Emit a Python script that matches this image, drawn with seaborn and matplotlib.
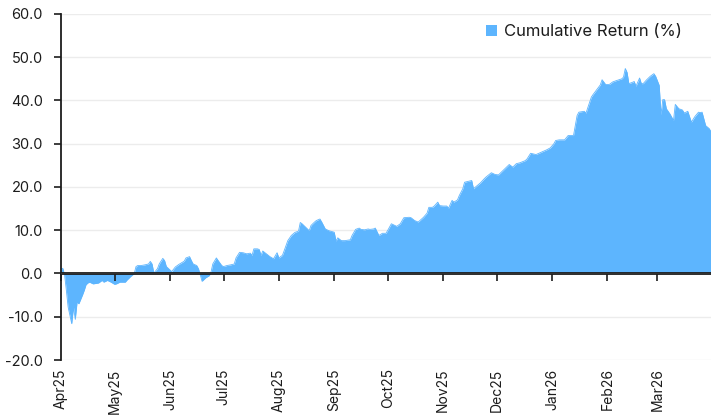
import matplotlib
matplotlib.use("Agg")
import matplotlib.pyplot as plt
import matplotlib.dates as mdates
from matplotlib.patches import Patch
import pandas as pd
import seaborn as sns

# Cumulative return of the portfolio, April 2025 - March 2026 (%)
dates = [
    "2025-04-01", "2025-04-02", "2025-04-03", "2025-04-04", "2025-04-05", "2025-04-07",
    "2025-04-08", "2025-04-09", "2025-04-10", "2025-04-11", "2025-04-12", "2025-04-13",
    "2025-04-14", "2025-04-15", "2025-04-16", "2025-04-17", "2025-04-19", "2025-04-22",
    "2025-04-24", "2025-04-25", "2025-04-27", "2025-04-29", "2025-05-01", "2025-05-02",
    "2025-05-04", "2025-05-07", "2025-05-08", "2025-05-10", "2025-05-12", "2025-05-13",
    "2025-05-14", "2025-05-16", "2025-05-18", "2025-05-20", "2025-05-21", "2025-05-22",
    "2025-05-23", "2025-05-25", "2025-05-26", "2025-05-28", "2025-05-29", "2025-05-30",
    "2025-06-01", "2025-06-02", "2025-06-04", "2025-06-06", "2025-06-09", "2025-06-10",
    "2025-06-12", "2025-06-13", "2025-06-14", "2025-06-16", "2025-06-17", "2025-06-19",
    "2025-06-21", "2025-06-23", "2025-06-24", "2025-06-25", "2025-06-27", "2025-06-28",
    "2025-06-30", "2025-07-01", "2025-07-03", "2025-07-05", "2025-07-07", "2025-07-08",
    "2025-07-10", "2025-07-12", "2025-07-14", "2025-07-16", "2025-07-17", "2025-07-18",
    "2025-07-20", "2025-07-21", "2025-07-22", "2025-07-23", "2025-07-25", "2025-07-27",
    "2025-07-29", "2025-07-31", "2025-08-01", "2025-08-03", "2025-08-04", "2025-08-06",
    "2025-08-08", "2025-08-10", "2025-08-12", "2025-08-13", "2025-08-14", "2025-08-16",
    "2025-08-18", "2025-08-19", "2025-08-21", "2025-08-22", "2025-08-24", "2025-08-25",
    "2025-08-27", "2025-08-29", "2025-09-01", "2025-09-02", "2025-09-03", "2025-09-05",
    "2025-09-07", "2025-09-10", "2025-09-11", "2025-09-13", "2025-09-15", "2025-09-16",
    "2025-09-18", "2025-09-20", "2025-09-21", "2025-09-23", "2025-09-24", "2025-09-26",
    "2025-09-28", "2025-09-30", "2025-10-01", "2025-10-03", "2025-10-05", "2025-10-06",
    "2025-10-08", "2025-10-10", "2025-10-13", "2025-10-14", "2025-10-16", "2025-10-18",
    "2025-10-19", "2025-10-21", "2025-10-23", "2025-10-24", "2025-10-26", "2025-10-27",
    "2025-10-29", "2025-10-30", "2025-11-01", "2025-11-03", "2025-11-04", "2025-11-06",
    "2025-11-07", "2025-11-09", "2025-11-10", "2025-11-12", "2025-11-13", "2025-11-15",
    "2025-11-17", "2025-11-18", "2025-11-20", "2025-11-22", "2025-11-24", "2025-11-25",
    "2025-11-28", "2025-11-30", "2025-12-02", "2025-12-03", "2025-12-06", "2025-12-08",
    "2025-12-10", "2025-12-12", "2025-12-14", "2025-12-17", "2025-12-18", "2025-12-20",
    "2025-12-21", "2025-12-23", "2025-12-26", "2025-12-29", "2025-12-31", "2026-01-02",
    "2026-01-03", "2026-01-05", "2026-01-08", "2026-01-10", "2026-01-13", "2026-01-15",
    "2026-01-16", "2026-01-19", "2026-01-20", "2026-01-23", "2026-01-24", "2026-01-26",
    "2026-01-28", "2026-01-29", "2026-01-31", "2026-02-02", "2026-02-04", "2026-02-06",
    "2026-02-09", "2026-02-10", "2026-02-11", "2026-02-12", "2026-02-13", "2026-02-15",
    "2026-02-16", "2026-02-17", "2026-02-19", "2026-02-20", "2026-02-21", "2026-02-23",
    "2026-02-25", "2026-02-27", "2026-02-28", "2026-03-02", "2026-03-03", "2026-03-04",
    "2026-03-05", "2026-03-06", "2026-03-08", "2026-03-10", "2026-03-11", "2026-03-13",
    "2026-03-15", "2026-03-16", "2026-03-18", "2026-03-20", "2026-03-22", "2026-03-24",
    "2026-03-25", "2026-03-26", "2026-03-28", "2026-03-30", "2026-03-31",
]

cumulative_return = [
    1.0, 1.2, -0.3, -3.9, -7.8, -11.6,
    -7.8, -10.6, -6.6, -7.0, -6.0, -5.0,
    -3.9, -2.6, -2.2, -2.0, -2.4, -2.2,
    -1.6, -2.0, -1.6, -2.0, -2.5, -2.4,
    -2.0, -2.0, -1.5, -0.7, 0.0, 1.6,
    1.85, 1.85, 2.0, 2.2, 2.8, 2.2,
    0.1, 1.1, 2.2, 3.5, 3.0, 1.6,
    0.85, 0.45, 1.5, 2.1, 2.85, 3.6,
    3.9, 3.0, 2.2, 1.85, 1.1, -1.8,
    -1.0, -0.5, 0.3, 2.2, 3.6, 3.0,
    1.85, 1.6, 1.85, 2.0, 2.2, 3.6,
    4.9, 4.8, 4.55, 4.7, 4.2, 5.7,
    5.7, 5.55, 4.2, 5.2, 4.55, 3.9,
    3.4, 4.8, 3.6, 4.2, 5.3, 7.6,
    8.8, 9.5, 9.8, 11.8, 11.5, 10.7,
    9.9, 11.1, 11.9, 12.25, 12.6, 11.9,
    10.3, 9.9, 9.55, 7.5, 8.25, 7.6,
    7.6, 7.8, 8.8, 10.2, 10.5, 10.2,
    10.1, 10.3, 10.2, 10.3, 10.5, 8.8,
    9.3, 9.3, 10.0, 11.5, 11.1, 10.9,
    11.5, 12.9, 13.0, 12.9, 12.25, 11.9,
    12.25, 13.0, 13.95, 15.3, 15.3, 15.6,
    16.5, 15.7, 15.6, 15.6, 15.1, 16.9,
    16.5, 17.0, 18.0, 19.6, 21.1, 21.3,
    21.5, 19.6, 20.3, 21.0, 21.9, 22.3,
    23.3, 22.9, 22.8, 23.2, 24.4, 25.2,
    24.6, 25.4, 25.6, 26.1, 26.5, 27.8,
    27.7, 27.5, 28.05, 28.6, 29.05, 30.0,
    30.75, 30.9, 30.9, 31.9, 31.9, 36.5,
    37.3, 37.5, 37.1, 40.8, 41.4, 42.5,
    43.6, 44.8, 43.7, 43.7, 44.3, 44.6,
    45.0, 45.4, 47.4, 46.5, 43.9, 44.2,
    44.4, 43.3, 45.2, 43.9, 43.9, 44.8,
    45.6, 46.2, 45.6, 43.5, 36.7, 40.2,
    40.2, 38.1, 36.9, 35.4, 39.1, 38.1,
    37.8, 37.1, 37.5, 35.0, 36.3, 37.3,
    37.2, 37.3, 34.2, 33.5, 32.8,
]

series_label = "Cumulative Return (%)"
y_ticks = [-20, -10, 0, 10, 20, 30, 40, 50, 60]
x_start, x_end = "2025-04-01", "2026-03-31"

AREA = "#5db5fe"
INK = "#1c1c1c"

sns.set_theme(style="white")
plt.rcParams["font.family"] = ["Inter", "DejaVu Sans"]

df = pd.DataFrame({"date": pd.to_datetime(dates), "ret": cumulative_return})

fig = plt.figure(figsize=(7.11, 4.19), dpi=100)
ax = fig.add_axes([61 / 711, 1 - 360 / 419, 1 - 61 / 711, 346 / 419])

ax.fill_between(df["date"], 0, df["ret"], color=AREA, linewidth=0, zorder=2)
sns.lineplot(data=df, x="date", y="ret", ax=ax, color=AREA, linewidth=0.6, zorder=2)

ymin, ymax = y_ticks[0], y_ticks[-1]
ax.set_ylim(ymin, ymax)
ax.set_xlim(pd.Timestamp(x_start), pd.Timestamp(x_end))
ax.set_yticks(y_ticks)
ax.set_yticklabels([f"{t:.1f}" for t in y_ticks])
ax.set_xlabel("")
ax.set_ylabel("")

# light horizontal grid
ax.grid(axis="y", color="#ececec", linewidth=1.0, zorder=0)
ax.grid(axis="x", visible=False)
ax.set_axisbelow(True)

for side in ("top", "right", "bottom"):
    ax.spines[side].set_visible(False)
ax.spines["left"].set_color(INK)
ax.spines["left"].set_linewidth(1.3)

ax.xaxis.set_major_locator(mdates.MonthLocator())
ax.xaxis.set_major_formatter(mdates.DateFormatter("%b%y"))
ax.tick_params(axis="x", length=0, pad=6, labelsize=10, labelcolor=INK, labelrotation=90)
ax.tick_params(axis="y", length=5, width=1.2, color=INK, direction="out",
               pad=8, labelsize=10.5, labelcolor=INK, left=True)

# zero line carrying the month tick marks
zero_frac = (0 - ymin) / (ymax - ymin)
zax = ax.secondary_xaxis(zero_frac)
zax.set_zorder(5)
zax.xaxis.set_major_locator(mdates.MonthLocator())
zax.tick_params(axis="x", length=5, width=1.2, color=INK, direction="out", labelbottom=False)
zax.spines["bottom"].set_color(INK)
zax.spines["bottom"].set_linewidth(1.3)
ax.axhline(0, color=INK, linewidth=1.3, zorder=3)

handle = Patch(facecolor=AREA, edgecolor="none", label=series_label)
ax.legend(handles=[handle], loc="upper right", bbox_to_anchor=(0.955, 0.97),
          frameon=False, fontsize=12, handlelength=0.7, handleheight=0.7,
          handletextpad=0.4, borderpad=0, borderaxespad=0, labelcolor=INK)

fig.savefig("out.png", dpi=100)
